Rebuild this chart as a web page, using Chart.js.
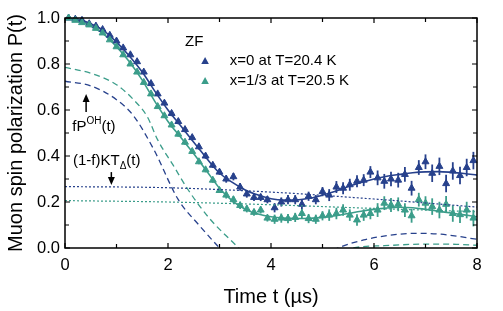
<!DOCTYPE html>
<html lang="en">
<head>
<meta charset="UTF-8">
<title>Muon spin polarization</title>
<script src="https://cdn.jsdelivr.net/npm/chart.js@4"></script>
<style>
  html, body { margin: 0; padding: 0; background: #fff; }
  #wrap { width: 503px; height: 311px; }
</style>
</head>
<body>
<div id="wrap"><canvas id="muonChart"></canvas></div>
<script>
// measured points (time in microseconds)
const times = [0.07, 0.20, 0.33, 0.47, 0.60, 0.73, 0.87, 1.00, 1.13, 1.27,
  1.40, 1.53, 1.67, 1.80, 1.93, 2.07, 2.20, 2.33, 2.47, 2.60,
  2.73, 2.87, 3.00, 3.13, 3.27, 3.40, 3.53, 3.67, 3.80, 3.93,
  4.07, 4.20, 4.33, 4.47, 4.60, 4.73, 4.87, 5.00, 5.13, 5.27,
  5.40, 5.53, 5.67, 5.80, 5.93, 6.07, 6.20, 6.33, 6.47, 6.60,
  6.73, 6.87, 7.00, 7.13, 7.27, 7.40, 7.53, 7.67, 7.80, 7.93];

// x=0 at T=20.4 K
const blueData = [1.00, 0.995, 0.99, 0.975, 0.965, 0.95, 0.925, 0.90, 0.87, 0.84,
  0.81, 0.765, 0.715, 0.67, 0.63, 0.585, 0.55, 0.515, 0.48, 0.44,
  0.40, 0.36, 0.33, 0.30, 0.31, 0.265, 0.235, 0.22, 0.22, 0.21,
  0.175, 0.20, 0.21, 0.21, 0.19, 0.225, 0.21, 0.245, 0.23, 0.265,
  0.26, 0.275, 0.29, 0.295, 0.33, 0.305, 0.29, 0.30, 0.295, 0.32,
  0.26, 0.35, 0.375, 0.325, 0.355, 0.28, 0.335, 0.315, 0.35, 0.38];
const blueErr = [0.005, 0.005, 0.005, 0.005, 0.005, 0.005, 0.005, 0.005, 0.008, 0.008,
  0.008, 0.008, 0.008, 0.008, 0.008, 0.012, 0.012, 0.012, 0.012, 0.012,
  0.012, 0.012, 0.012, 0.016, 0.016, 0.016, 0.016, 0.016, 0.016, 0.016,
  0.02, 0.02, 0.02, 0.02, 0.02, 0.02, 0.02, 0.02, 0.026, 0.026,
  0.026, 0.026, 0.026, 0.026, 0.026, 0.032, 0.032, 0.032, 0.032, 0.032,
  0.032, 0.032, 0.032, 0.038, 0.038, 0.038, 0.038, 0.038, 0.038, 0.038];

// x=1/3 at T=20.5 K
const tealData = [1.00, 0.99, 0.98, 0.97, 0.955, 0.935, 0.905, 0.875, 0.84, 0.80,
  0.765, 0.72, 0.67, 0.615, 0.575, 0.535, 0.495, 0.46, 0.42, 0.375,
  0.34, 0.295, 0.25, 0.23, 0.21, 0.185, 0.17, 0.155, 0.165, 0.13,
  0.125, 0.13, 0.128, 0.133, 0.15, 0.128, 0.125, 0.14, 0.143, 0.15,
  0.165, 0.143, 0.122, 0.143, 0.15, 0.165, 0.195, 0.187, 0.19, 0.165,
  0.14, 0.21, 0.195, 0.18, 0.165, 0.19, 0.15, 0.145, 0.165, 0.13];
const tealErr = [0.005, 0.005, 0.005, 0.005, 0.005, 0.005, 0.005, 0.005, 0.008, 0.008,
  0.008, 0.008, 0.008, 0.008, 0.008, 0.011, 0.011, 0.011, 0.011, 0.011,
  0.011, 0.011, 0.011, 0.015, 0.015, 0.015, 0.015, 0.015, 0.015, 0.015,
  0.02, 0.02, 0.02, 0.02, 0.02, 0.02, 0.02, 0.02, 0.025, 0.025,
  0.025, 0.025, 0.025, 0.025, 0.025, 0.03, 0.03, 0.03, 0.03, 0.03,
  0.03, 0.03, 0.03, 0.036, 0.036, 0.036, 0.036, 0.036, 0.036, 0.036];

// fitted curves
const fitTimes = [0, 0.25, 0.5, 0.75, 1.0, 1.25, 1.5, 1.75, 2.0, 2.25, 2.5, 2.75,
  3.0, 3.25, 3.5, 3.75, 4.0, 4.25, 4.5, 4.75, 5.0, 5.25, 5.5, 5.75,
  6.0, 6.25, 6.5, 6.75, 7.0, 7.25, 7.5, 7.75, 8.0];
const blueFit = [1.0, 0.995, 0.975, 0.945, 0.895, 0.835, 0.765, 0.68, 0.60, 0.53, 0.46, 0.39,
  0.326, 0.285, 0.252, 0.23, 0.214, 0.208, 0.209, 0.216, 0.23, 0.247, 0.267, 0.285,
  0.30, 0.312, 0.32, 0.327, 0.331, 0.332, 0.329, 0.324, 0.317];
const tealFit = [1.0, 0.992, 0.965, 0.93, 0.875, 0.81, 0.73, 0.635, 0.55, 0.48, 0.41, 0.335,
  0.26, 0.205, 0.168, 0.148, 0.136, 0.13, 0.128, 0.129, 0.133, 0.14, 0.15, 0.16,
  0.168, 0.174, 0.177, 0.175, 0.168, 0.16, 0.152, 0.144, 0.136];

// fP_OH(t) components (dashed)
const blueOhTimes = [0, 0.5, 1.0, 1.33, 1.72, 2.2, 2.6, 3.0, 3.5, 4.5, 5.3, 5.8, 6.3, 6.8, 7.3, 8.0];
const blueOh = [0.725, 0.705, 0.645, 0.575, 0.43, 0.21, 0.10, 0.0, -0.12, -0.1, 0.0, 0.035, 0.055, 0.064, 0.06, 0.038];
const tealOhTimes = [0, 0.5, 1.0, 1.33, 1.6, 1.8, 2.1, 2.4, 2.8, 3.37, 3.8, 4.8, 5.6, 6.2, 7.0, 7.6, 8.0];
const tealOh = [0.785, 0.76, 0.71, 0.645, 0.57, 0.47, 0.36, 0.25, 0.13, 0.0, -0.1, -0.08, 0.0, 0.01, 0.017, 0.016, 0.012];

// (1-f)KT(t) components (dotted)
const ktTimes = [0, 2, 4, 6, 8];
const blueKt = [0.267, 0.262, 0.243, 0.213, 0.178];
const tealKt = [0.206, 0.2, 0.188, 0.172, 0.158];

const BLUE = '#27418c';
const TEAL = '#3b9d8a';
const FONT = '"Liberation Sans", Arial, sans-serif';

function pairs(xs, ys) {
  return xs.map((x, i) => ({ x: x, y: ys[i] }));
}

function lineSet(xs, ys, color, dash, width) {
  return {
    data: pairs(xs, ys),
    showLine: true,
    borderColor: color,
    borderWidth: width,
    borderDash: dash,
    pointRadius: 0,
    cubicInterpolationMode: 'monotone'
  };
}

function pointSet(xs, ys, errs, color) {
  return {
    data: pairs(xs, ys),
    errors: errs,
    showLine: false,
    pointStyle: 'triangle',
    pointRadius: 4,
    backgroundColor: color,
    borderColor: color,
    borderWidth: 1,
    clip: false
  };
}

// error bars, frame, inward ticks and text labels
const extras = {
  id: 'extras',
  beforeDatasetsDraw(chart) {
    const { ctx, chartArea: a, scales: { x, y } } = chart;
    ctx.save();
    ctx.beginPath();
    ctx.rect(a.left, a.top, a.right - a.left, a.bottom - a.top);
    ctx.clip();
    chart.data.datasets.forEach(ds => {
      if (!ds.errors) return;
      ctx.strokeStyle = ds.borderColor;
      ctx.lineWidth = 1.8;
      ds.data.forEach((p, i) => {
        const px = x.getPixelForValue(p.x);
        ctx.beginPath();
        ctx.moveTo(px, y.getPixelForValue(p.y - ds.errors[i]));
        ctx.lineTo(px, y.getPixelForValue(p.y + ds.errors[i]));
        ctx.stroke();
      });
    });
    ctx.restore();
  },
  afterDraw(chart) {
    const { ctx, chartArea: a, scales: { x, y } } = chart;
    ctx.save();
    ctx.strokeStyle = '#000';
    ctx.lineWidth = 1.5;
    ctx.strokeRect(a.left, a.top, a.right - a.left, a.bottom - a.top);

    ctx.lineWidth = 1.2;
    for (let t = 0; t <= 8; t++) {
      const px = x.getPixelForValue(t);
      const len = t % 2 === 0 ? 5 : 4;
      ctx.beginPath();
      ctx.moveTo(px, a.bottom); ctx.lineTo(px, a.bottom - len);
      ctx.moveTo(px, a.top); ctx.lineTo(px, a.top + len);
      ctx.stroke();
    }
    for (let k = 0; k <= 10; k++) {
      const py = y.getPixelForValue(k / 10);
      const len = k % 2 === 0 ? 5 : 4;
      ctx.beginPath();
      ctx.moveTo(a.left, py); ctx.lineTo(a.left + len, py);
      ctx.moveTo(a.right, py); ctx.lineTo(a.right - len, py);
      ctx.stroke();
    }

    const X = v => x.getPixelForValue(v);
    const Y = v => y.getPixelForValue(v);
    ctx.fillStyle = '#000';
    ctx.textBaseline = 'middle';
    ctx.font = '15px ' + FONT;
    ctx.fillText('ZF', X(2.33), Y(0.896));

    // legend
    const rows = [['x=0 at T=20.4 K', BLUE, 0.813], ['x=1/3 at T=20.5 K', TEAL, 0.726]];
    rows.forEach(([label, color, v]) => {
      const mx = X(2.72), my = Y(v);
      ctx.fillStyle = color;
      ctx.beginPath();
      ctx.moveTo(mx, my - 4);
      ctx.lineTo(mx + 3.8, my + 3);
      ctx.lineTo(mx - 3.8, my + 3);
      ctx.closePath();
      ctx.fill();
      ctx.fillStyle = '#000';
      ctx.font = '15px ' + FONT;
      ctx.fillText(label, X(3.2), my);
    });

    // fP_OH(t) label and arrow
    ctx.textBaseline = 'alphabetic';
    let tx = X(0.14), ty = Y(0.509);
    ctx.font = '15px ' + FONT;
    ctx.fillText('fP', tx, ty);
    tx += ctx.measureText('fP').width;
    ctx.font = '10px ' + FONT;
    ctx.fillText('OH', tx, ty - 7);
    tx += ctx.measureText('OH').width;
    ctx.font = '15px ' + FONT;
    ctx.fillText('(t)', tx, ty);
    arrow(ctx, X(0.41), Y(0.591), Y(0.67));

    // (1-f)KT_delta(t) label and arrow
    tx = X(0.155); ty = Y(0.361);
    ctx.fillText('(1-f)KT', tx, ty);
    tx += ctx.measureText('(1-f)KT').width;
    ctx.font = '10px ' + FONT;
    ctx.fillText('\u0394', tx, ty + 4);
    tx += ctx.measureText('\u0394').width;
    ctx.font = '15px ' + FONT;
    ctx.fillText('(t)', tx, ty);
    arrow(ctx, X(0.9), Y(0.33), Y(0.274));
    ctx.restore();
  }
};

function arrow(ctx, px, fromY, tipY) {
  const dir = tipY < fromY ? -1 : 1;
  ctx.strokeStyle = '#000';
  ctx.fillStyle = '#000';
  ctx.lineWidth = 1.5;
  ctx.beginPath();
  ctx.moveTo(px, fromY);
  ctx.lineTo(px, tipY - dir * 6);
  ctx.stroke();
  ctx.beginPath();
  ctx.moveTo(px, tipY);
  ctx.lineTo(px - 3.5, tipY - dir * 8);
  ctx.lineTo(px + 3.5, tipY - dir * 8);
  ctx.closePath();
  ctx.fill();
}

new Chart(document.getElementById('muonChart'), {
  type: 'scatter',
  data: {
    datasets: [
      lineSet(ktTimes, blueKt, BLUE, [2, 2], 1.2),
      lineSet(ktTimes, tealKt, TEAL, [2, 2], 1.2),
      lineSet(blueOhTimes, blueOh, BLUE, [6, 4], 1.3),
      lineSet(tealOhTimes, tealOh, TEAL, [6, 4], 1.3),
      pointSet(times, tealData, tealErr, TEAL),
      pointSet(times, blueData, blueErr, BLUE),
      lineSet(fitTimes, tealFit, TEAL, [], 1.6),
      lineSet(fitTimes, blueFit, BLUE, [], 1.6)
    ]
  },
  options: {
    responsive: true,
    maintainAspectRatio: false,
    animation: false,
    layout: { padding: { top: 18, right: 26, left: 0, bottom: 0 } },
    plugins: { legend: { display: false }, tooltip: { enabled: false } },
    scales: {
      x: {
        type: 'linear', min: 0, max: 8,
        grid: { display: false, drawTicks: false }, border: { display: false },
        ticks: { stepSize: 2, padding: 8, color: '#000', font: { size: 16.5, family: FONT } },
        title: { display: true, text: 'Time t (\u00b5s)', color: '#000', padding: { top: 4, bottom: 2 }, font: { size: 20, family: FONT } },
        afterFit(scale) { scale.height = 63; }
      },
      y: {
        min: 0, max: 1.0,
        grid: { display: false, drawTicks: false }, border: { display: false },
        ticks: { stepSize: 0.2, padding: 5, color: '#000', callback: v => v.toFixed(1), font: { size: 16.5, family: FONT } },
        title: { display: true, text: 'Muon spin polarization P(t)', color: '#000', font: { size: 20, family: FONT } },
        afterFit(scale) { scale.width = 65; }
      }
    }
  },
  plugins: [extras]
});
</script>
</body>
</html>
